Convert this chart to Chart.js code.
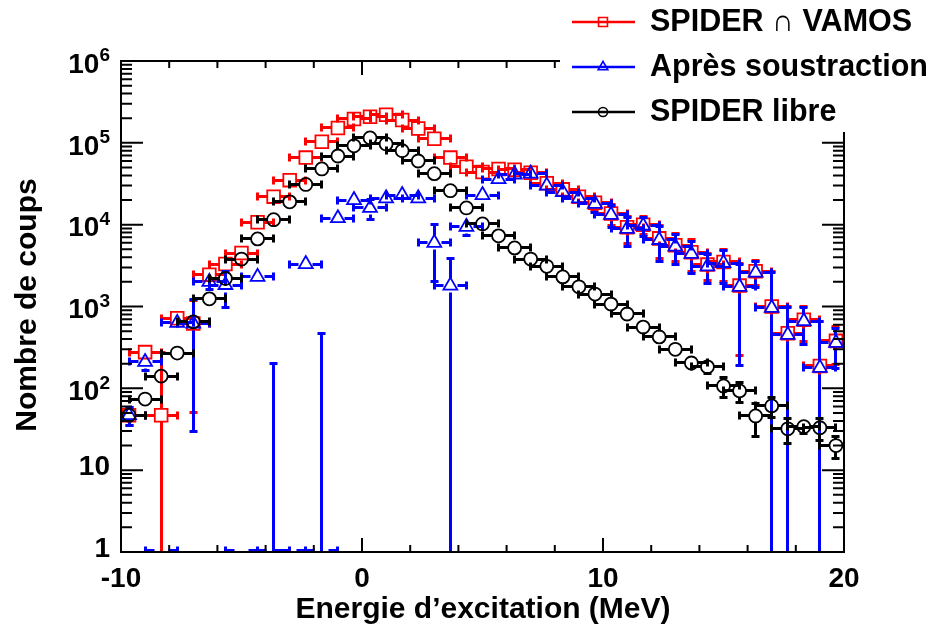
<!DOCTYPE html>
<html>
<head>
<meta charset="utf-8">
<script src="https://cdn.jsdelivr.net/npm/chart.js@4.4.1/dist/chart.umd.min.js"></script>
<style>
    html, body { margin: 0; padding: 0; background: #fff; }
</style>
</head>
<body>
<canvas id="myChart" width="932" height="632"></canvas>
<script>
/*               data                */

// bin centres in MeV, bins of 2/3 MeV from -10 to 20
const energies = [-9.667, -9, -8.333, -7.667, -7, -6.333, -5.667, -5, -4.333, -3.667,
    -3, -2.333, -1.667, -1, -0.333, 0.333, 1, 1.667, 2.333, 3,
    3.667, 4.333, 5, 5.667, 6.333, 7, 7.667, 8.333, 9, 9.667,
    10.333, 11, 11.667, 12.333, 13, 13.667, 14.333, 15, 15.667, 16.333,
    17, 17.667, 18.333, 19, 19.667];
const binHalfWidth = 0.667;

const spiderVamos = [47, 277, 47, 720, 620, 2450, 3300, 4500, 10700, 22000,
    35000, 66000, 103000, 152000, 196000, 208000, 220000, 190000, 150000, 112000,
    66000, 51000, 44000, 48000, 47000, 43000, 32000, 27000, 22000, 18500,
    13700, 9300, 10000, 6800, 5600, 4600, 3250, 3500, 1800, 2700,
    1000, 470, 690, 188, 380];
const spiderVamosErr = [12, 40, 230, 100, 570, 150, 180, 250, 350, 500,
    700, 900, 1100, 1300, 1500, 1500, 1600, 1500, 1300, 1100,
    900, 800, 800, 900, 900, 1500, 2000, 2500, 2800, 3500,
    3800, 3400, 2500, 2900, 2100, 1900, 1200, 1500, 1550, 900,
    1650, 520, 320, 470, 185];

const apresSoustraction = [47, 210, -30, 630, 620, 2000, 1830, -30, 2300, -250,
    -60, 3300, -400, 12000, 20000, 16000, 21000, 23000, 21000, 6000,
    1800, 9400, 23000, 36000, 41000, 42000, 30000, 25000, 21000, 18000,
    13200, 8900, 9700, 6500, 5400, 4400, 3100, 3400, 1740, 2600,
    960, 450, 660, 178, 360];
const apresSoustractionErr = [12, 45, 20, 110, 590, 400, 850, 20, 350, 450,
    20, 650, 870, 1500, 2000, 4500, 3000, 3000, 3000, 4000,
    2100, 2000, 2000, 2500, 2500, 2500, 3000, 3000, 3000, 4000,
    4000, 3500, 2500, 3000, 2100, 1900, 1200, 1500, 1550, 900,
    1650, 510, 320, 470, 185];

const spiderLibre = [47, 74, 141, 270, 650, 1240, 2200, 3800, 6700, 11500,
    19000, 31000, 48000, 69000, 92000, 115000, 97000, 80000, 60000, 42000,
    26000, 16000, 10200, 7300, 5200, 3800, 3100, 2300, 1740, 1420,
    1070, 810, 560, 425, 300, 204, 183, 107, 93, 46,
    61, 32, 34, 33, 20];
const spiderLibreErr = [8, 10, 14, 20, 30, 40, 50, 70, 90, 120,
    150, 200, 250, 300, 350, 400, 350, 320, 280, 230,
    180, 140, 110, 95, 80, 70, 60, 55, 48, 42,
    37, 32, 27, 23, 20, 25, 30, 30, 25, 20,
    17, 11, 6, 10, 6];

const seriesNames = ['SPIDER \u2229 VAMOS', 'Apr\u00e8s soustraction', 'SPIDER libre'];
const seriesColors = ['#ff0000', '#0000ff', '#000000'];

const xTickValues = [-10, 0, 10, 20];
const xTickLabels = ['-10', '0', '10', '20'];
const yTickValues = [1, 10, 1e2, 1e3, 1e4, 1e5, 1e6];
const yTickBase = ['1', '10', '10', '10', '10', '10', '10'];
const yTickSup = ['', '', '2', '3', '4', '5', '6'];

/*               helpers                */

const allValues = [spiderVamos, apresSoustraction, spiderLibre];
const allErrors = [spiderVamosErr, apresSoustractionErr, spiderLibreErr];
const markerStyles = ['rect', 'triangle', 'circle'];
const markerRadius = [9, 8, 6.5];
const markerGap = [6.5, 7, 6.5];
const FONT = '"Liberation Sans", Arial, Helvetica, sans-serif';

function toPoints(values) {
    return values.map((v, i) => ({ x: energies[i], y: v }));
}

// snap to pixel centres so overlapping bars cover each other cleanly
function snap(p) {
    return Math.round(p - 0.5) + 0.5;
}

function drawMarker(ctx, style, x, y, r) {
    ctx.beginPath();
    if (style === 'rect') {
        let s = r * Math.SQRT1_2;
        ctx.rect(x - s, y - s, 2 * s, 2 * s);
    } else if (style === 'triangle') {
        ctx.moveTo(x, y - r);
        ctx.lineTo(x + r * 0.866, y + r * 0.5);
        ctx.lineTo(x - r * 0.866, y + r * 0.5);
        ctx.closePath();
    } else {
        ctx.arc(x, y, r, 0, Math.PI * 2);
    }
    ctx.fill();
    ctx.stroke();
}

function drawErrorBars(chart, index) {
    const ctx = chart.ctx, a = chart.chartArea;
    const xs = chart.scales.x, ys = chart.scales.y;
    const vals = allValues[index], errs = allErrors[index];
    const g = markerGap[index], cap = 4;

    ctx.save();
    ctx.beginPath();
    ctx.rect(a.left, a.top, a.right - a.left, a.bottom - a.top);
    ctx.clip();
    ctx.strokeStyle = seriesColors[index];
    ctx.lineWidth = 3;
    ctx.lineCap = 'butt';
    ctx.beginPath();
    vals.forEach((v, i) => {
        const x = snap(xs.getPixelForValue(energies[i]));
        const x0 = snap(xs.getPixelForValue(energies[i] - binHalfWidth));
        const x1 = snap(xs.getPixelForValue(energies[i] + binHalfWidth));
        const shown = v >= ys.min;
        const y = shown ? snap(ys.getPixelForValue(v)) : a.bottom - 1.5;

        // horizontal bar with a gap for the marker
        ctx.moveTo(x0, y); ctx.lineTo(x - g, y);
        ctx.moveTo(x + g, y); ctx.lineTo(x1, y);
        ctx.moveTo(x0, y - cap); ctx.lineTo(x0, y + cap);
        ctx.moveTo(x1, y - cap); ctx.lineTo(x1, y + cap);

        // vertical bar
        const hi = v + errs[i], lo = v - errs[i];
        const start = shown ? y - g : a.bottom;
        if (hi > ys.min) {
            const yh = snap(ys.getPixelForValue(hi));
            if (yh < start) {
                ctx.moveTo(x, start); ctx.lineTo(x, yh);
                ctx.moveTo(x - cap, yh); ctx.lineTo(x + cap, yh);
            }
        }
        if (shown) {
            const yl = lo > ys.min ? snap(ys.getPixelForValue(lo)) : a.bottom + 2;
            if (yl > y + g) {
                ctx.moveTo(x, y + g); ctx.lineTo(x, yl);
                if (lo > ys.min) {
                    ctx.moveTo(x - cap, yl); ctx.lineTo(x + cap, yl);
                }
            }
        }
    });
    ctx.stroke();
    ctx.restore();
}

function drawAxes(chart) {
    const ctx = chart.ctx, a = chart.chartArea;
    const xs = chart.scales.x, ys = chart.scales.y;

    ctx.save();
    ctx.strokeStyle = '#000';
    ctx.lineWidth = 2;
    ctx.strokeRect(a.left, a.top, a.right - a.left, a.bottom - a.top);

    ctx.beginPath();
    for (let v = xs.min; v <= xs.max; v += 2) {
        const px = xs.getPixelForValue(v);
        const len = v % 10 === 0 ? 14 : 7;
        ctx.moveTo(px, a.bottom); ctx.lineTo(px, a.bottom - len);
        ctx.moveTo(px, a.top); ctx.lineTo(px, a.top + len);
    }
    for (let d = 0; d <= 6; d++) {
        for (let m = 1; m <= 9; m++) {
            const val = m * Math.pow(10, d);
            if (val > ys.max) break;
            const py = ys.getPixelForValue(val);
            const len = m === 1 ? 22 : 11;
            ctx.moveTo(a.left, py); ctx.lineTo(a.left + len, py);
            ctx.moveTo(a.right, py); ctx.lineTo(a.right - len, py);
        }
    }
    ctx.stroke();

    // tick labels
    ctx.fillStyle = '#000';
    ctx.font = 'bold 28px ' + FONT;
    ctx.textAlign = 'center';
    ctx.textBaseline = 'middle';
    xTickValues.forEach((v, i) => {
        ctx.fillText(xTickLabels[i], xs.getPixelForValue(v), 579);
    });

    ctx.textAlign = 'right';
    yTickValues.forEach((v, i) => {
        const py = ys.getPixelForValue(v);
        const right = 110;
        if (yTickSup[i]) {
            ctx.font = 'bold 19px ' + FONT;
            const w = ctx.measureText(yTickSup[i]).width;
            ctx.fillText(yTickSup[i], right, py - 5);
            ctx.font = 'bold 28px ' + FONT;
            ctx.fillText(yTickBase[i], right - w, py + 4);
        } else {
            ctx.font = 'bold 28px ' + FONT;
            ctx.fillText(yTickBase[i], right, py - 3);
        }
    });

    // axis titles
    ctx.font = 'bold 30px ' + FONT;
    ctx.textAlign = 'center';
    ctx.fillText('Energie d\u2019excitation (MeV)', 483, 610);
    ctx.save();
    ctx.translate(28, 305);
    ctx.rotate(-Math.PI / 2);
    ctx.fillText('Nombre de coups', 0, 0);
    ctx.restore();
    ctx.restore();
}

function drawLegend(chart) {
    const ctx = chart.ctx;
    const rows = [22, 67, 112];
    ctx.save();
    ctx.fillStyle = '#fff';
    ctx.fillRect(560, 0, 372, 132);
    seriesNames.forEach((name, i) => {
        const y = rows[i];
        ctx.strokeStyle = seriesColors[i];
        ctx.lineWidth = 2.5;
        ctx.beginPath();
        ctx.moveTo(572, y); ctx.lineTo(635, y);
        ctx.stroke();
        ctx.fillStyle = 'rgba(0,0,0,0)';
        ctx.lineWidth = 1.6;
        drawMarker(ctx, markerStyles[i], 603, y, markerRadius[i] * 0.7);
        ctx.fillStyle = '#000';
        ctx.font = 'bold 30.5px ' + FONT;
        ctx.textAlign = 'left';
        ctx.textBaseline = 'middle';
        ctx.fillText(name, 650, y + 1);
    });
    ctx.restore();
}

const rootStyle = {
    id: 'rootStyle',
    beforeDatasetDraw(chart, args) {
        drawErrorBars(chart, args.index);
    },
    afterDraw(chart) {
        drawAxes(chart);
        drawLegend(chart);
    }
};

/*               chart                */

let ctx = document.getElementById('myChart').getContext('2d');
let chart = new Chart(ctx, {
    type: 'scatter',
    data: {
        datasets: allValues.map((vals, i) => ({
            label: seriesNames[i],
            data: toPoints(vals),
            borderColor: seriesColors[i],
            backgroundColor: 'rgba(0,0,0,0)',
            pointStyle: markerStyles[i],
            pointRadius: markerRadius[i],
            pointBorderWidth: 1.8,
            showLine: false,
            order: 3 - i
        }))
    },
    options: {
        responsive: false,
        animation: false,
        events: [],
        layout: { padding: { left: 121, right: 88, top: 61, bottom: 80 }, autoPadding: false },
        plugins: { legend: { display: false }, tooltip: { enabled: false } },
        scales: {
            x: { type: 'linear', min: -10, max: 20, display: false },
            y: { type: 'logarithmic', min: 1, max: 1e6, display: false }
        }
    },
    plugins: [rootStyle]
});
</script>
</body>
</html>
